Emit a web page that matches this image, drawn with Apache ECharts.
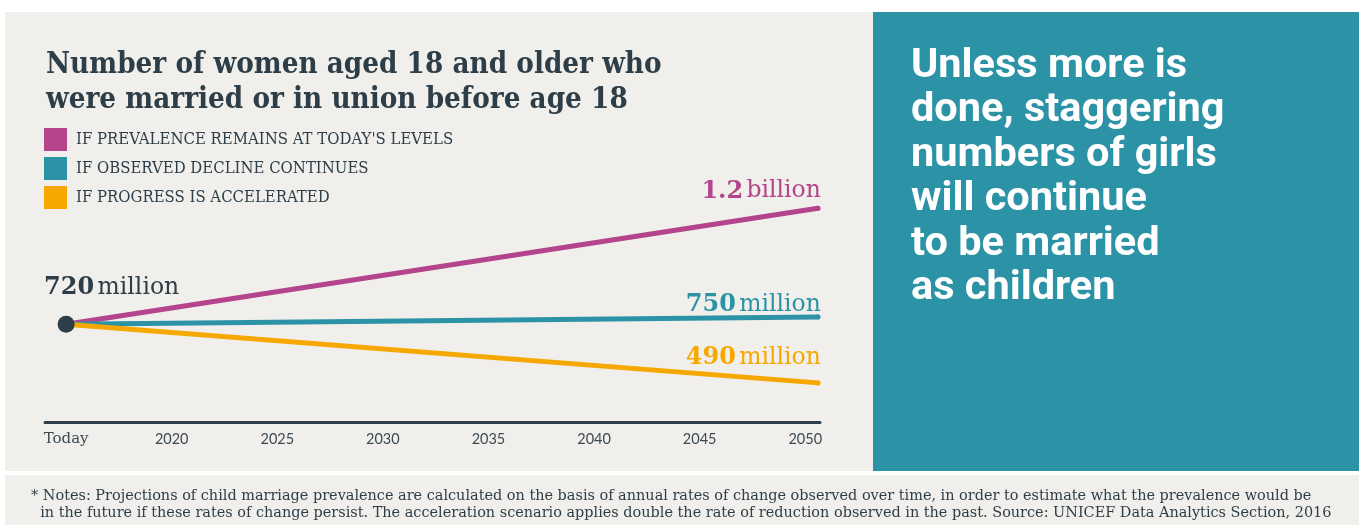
<!DOCTYPE html>
<html>
<head>
<meta charset="utf-8">
<style>
  html, body { margin: 0; padding: 0; background: #ffffff; }
  #chart { width: 1359px; height: 525px; }
</style>
<script src="https://cdn.jsdelivr.net/npm/echarts@6/dist/echarts.min.js"></script>
</head>
<body>
<div id="chart"></div>
<script>
// scenario endpoints: today and the 2050 projection (million women)
const pointYears = [2015, 2050.6];
const sameLevels = [720, 1200];
const declineContinues = [720, 750];
const accelerated = [720, 477];

const seriesNames = [
  "IF PREVALENCE REMAINS AT TODAY'S LEVELS",
  'IF OBSERVED DECLINE CONTINUES',
  'IF PROGRESS IS ACCELERATED'
];
const endLabels = [['1.2', 'billion'], ['750', 'million'], ['490', 'million']];
const startLabel = ['720', 'million'];

const tickYears = [2015, 2020, 2025, 2030, 2035, 2040, 2045, 2050];
const tickLabels = ['Today', '2020', '2025', '2030', '2035', '2040', '2045', '2050'];

const DARK = '#2d3e48';
const PURPLE = '#b4448b';
const TEAL = '#2c93a6';
const ORANGE = '#f7a800';
const SERIF_C = '"DejaVu Serif Condensed", "DejaVu Serif", serif';
const SERIF = '"DejaVu Serif", serif';

const chart = echarts.init(document.getElementById('chart'));

function valueLabel(parts, color) {
  return {
    formatter: `{n|${parts[0]}} {u|${parts[1]}}`,
    rich: {
      n: { fontFamily: SERIF, fontWeight: 'bold', fontSize: 24, color },
      u: { fontFamily: SERIF, fontSize: 23.5, color }
    }
  };
}

function lineSeries(name, values, color, label, dy) {
  return {
    name,
    type: 'line',
    z: 3,
    symbol: 'circle',
    symbolSize: 5,
    showSymbol: true,
    silent: true,
    color,
    lineStyle: { width: 5, color, cap: 'round' },
    itemStyle: { color, opacity: 1 },
    data: values.map((v, i) => {
      const item = { value: [pointYears[i], v] };
      if (i === values.length - 1) {
        item.label = Object.assign({
          show: true,
          position: 'top',
          distance: 0,
          align: 'right',
          verticalAlign: 'middle',
          offset: [3, dy]
        }, valueLabel(label, color));
      }
      return item;
    })
  };
}

const option = {
  animation: false,
  backgroundColor: '#ffffff',
  graphic: [
    { type: 'rect', z: -10, shape: { x: 5, y: 12, width: 868, height: 459 }, style: { fill: '#f0efeb' } },
    { type: 'rect', z: -10, shape: { x: 873, y: 12, width: 486, height: 459 }, style: { fill: TEAL } },
    { type: 'rect', z: -10, shape: { x: 5, y: 475, width: 1354, height: 50 }, style: { fill: '#f0efeb' } }
  ],
  title: [
    {
      text: 'Number of women aged 18 and older who\nwere married or in union before age 18',
      left: 41,
      top: 43,
      textStyle: { fontFamily: SERIF_C, fontWeight: 'bold', fontSize: 29.3, lineHeight: 35, color: DARK }
    },
    {
      text: 'Unless more is\ndone, staggering\nnumbers of girls\nwill continue\nto be married\nas children',
      left: 906,
      top: 39,
      textStyle: { fontFamily: 'Roboto', fontWeight: 'bold', fontSize: 41.5, lineHeight: 44.5, color: '#ffffff' }
    },
    {
      text: '* Notes: Projections of child marriage prevalence are calculated on the basis of annual rates of change observed over time, in order to estimate what the prevalence would be\n  in the future if these rates of change persist. The acceleration scenario applies double the rate of reduction observed in the past. Source: UNICEF Data Analytics Section, 2016',
      left: 26,
      top: 483,
      textStyle: { fontFamily: SERIF, fontWeight: 'normal', fontSize: 14.45, lineHeight: 17, color: DARK }
    }
  ],
  legend: {
    data: seriesNames,
    orient: 'vertical',
    left: 44,
    top: 128,
    padding: 0,
    icon: 'rect',
    itemWidth: 23,
    itemHeight: 23,
    itemGap: 6,
    selectedMode: false,
    textStyle: { fontFamily: SERIF_C, fontSize: 16.6, color: DARK, padding: [0, 0, 0, 4] }
  },
  grid: { left: 45, right: 539, top: 160, bottom: 103 },
  xAxis: {
    type: 'value',
    min: 2014,
    max: 2050.7,
    splitLine: { show: false },
    axisTick: { show: false },
    axisLine: { show: true, lineStyle: { color: DARK, width: 3 } },
    axisLabel: {
      customValues: tickYears,
      margin: 10,
      formatter: (v) => {
        const i = tickYears.indexOf(v);
        const t = i >= 0 ? tickLabels[i] : '';
        return i === 0 ? `{t|${t}}` : `{y|${t}}`;
      },
      rich: {
        t: { fontFamily: SERIF, fontSize: 15, color: '#3d4a52' },
        y: { fontFamily: 'Lato', fontSize: 14.5, color: '#3d4a52' }
      }
    }
  },
  yAxis: {
    type: 'value',
    min: 315,
    max: 1400,
    show: false
  },
  series: [
    lineSeries(seriesNames[0], sameLevels, PURPLE, endLabels[0], -14.5),
    lineSeries(seriesNames[1], declineContinues, TEAL, endLabels[1], -10),
    lineSeries(seriesNames[2], accelerated, ORANGE, endLabels[2], -22.5),
    {
      type: 'scatter',
      z: 5,
      silent: true,
      symbolSize: 17,
      itemStyle: { color: DARK, opacity: 1 },
      data: [{
        value: [pointYears[0], sameLevels[0]],
        label: Object.assign({
          show: true,
          position: 'top',
          distance: 0,
          align: 'left',
          verticalAlign: 'middle',
          offset: [-22, -28]
        }, valueLabel(startLabel, DARK))
      }]
    }
  ]
};

chart.setOption(option);
window.addEventListener('resize', () => chart.resize());
</script>
</body>
</html>
